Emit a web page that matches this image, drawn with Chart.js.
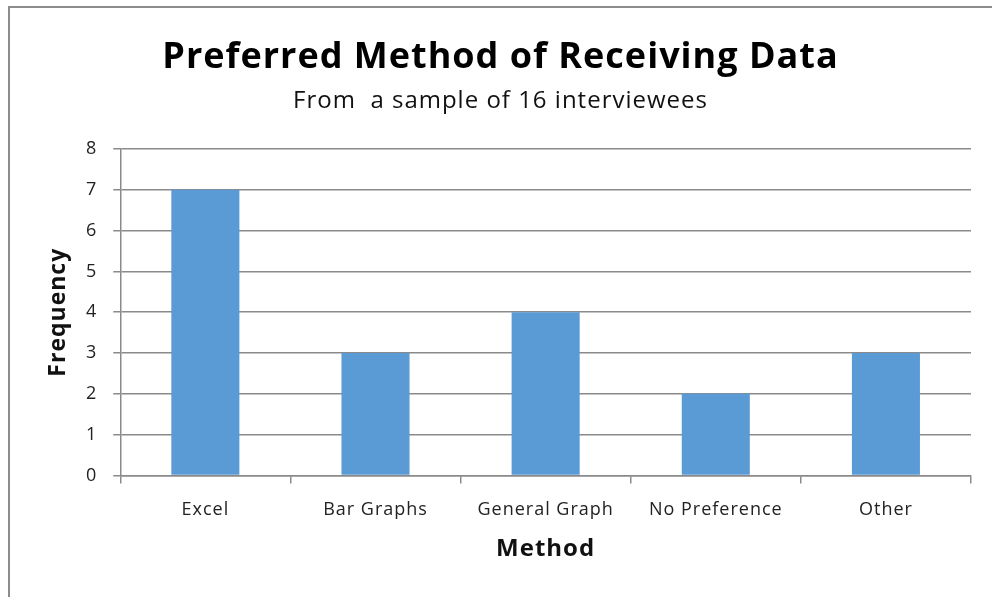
<!DOCTYPE html>
<html>
<head>
<meta charset="utf-8">
<script src="https://cdn.jsdelivr.net/npm/chart.js@4.4.1/dist/chart.umd.min.js"></script>
<style>
    body { margin: 0; background: #fff; }
    #frame {
        position: absolute;
        left: 8px;
        top: 6px;
        width: 1000px;
        height: 600px;
        border: 2px solid #8c8c8c;
        box-sizing: border-box;
    }
    #wrap { position: absolute; left: 0; top: 0; width: 992px; height: 597px; }
</style>
</head>
<body>
<div id="frame"></div>
<div id="wrap"><canvas id="chart" width="992" height="597"></canvas></div>
<script>
// Data
const methods = ['Excel', 'Bar Graphs', 'General Graph', 'No Preference', 'Other'];
const frequency = [7, 3, 4, 2, 3];
const yTicks = [0, 1, 2, 3, 4, 5, 6, 7, 8];

const gridColor = '#8a8a8a';
const fontFamily = '"Open Sans", sans-serif';

// Office-style text is a bit wider, add some letter spacing
const spacingPlugin = {
    id: 'spacing',
    beforeUpdate: (chart) => { chart.ctx.letterSpacing = '1px'; },
    beforeDraw: (chart) => { chart.ctx.letterSpacing = '1px'; }
};

const ctx = document.getElementById('chart').getContext('2d');
new Chart(ctx, {
    type: 'bar',
    plugins: [spacingPlugin],
    data: {
        labels: methods,
        datasets: [
            {
                label: 'Frequency',
                data: frequency,
                backgroundColor: '#5b9bd5',
                barPercentage: 0.4,
                categoryPercentage: 1
            }
        ]
    },
    options: {
        responsive: false,
        animation: false,
        layout: {
            padding: { top: 0, left: 30, right: 21, bottom: 32 }
        },
        plugins: {
            legend: { display: false },
            tooltip: { enabled: false },
            title: {
                display: true,
                text: 'Preferred Method of Receiving Data',
                color: '#000',
                font: { family: fontFamily, size: 36, weight: 'bold', lineHeight: 1.2 },
                padding: { top: 36, bottom: 4 }
            },
            subtitle: {
                display: true,
                text: 'From  a sample of 16 interviewees',
                color: '#111',
                font: { family: fontFamily, size: 24, lineHeight: 1.2 },
                padding: { top: 3.4, bottom: 33.6 }
            }
        },
        scales: {
            x: {
                offset: true,
                grid: {
                    offset: true,
                    drawOnChartArea: false,
                    color: gridColor,
                    lineWidth: 1.5,
                    tickLength: 8
                },
                border: { display: true, color: gridColor, width: 1.5 },
                ticks: {
                    color: '#222',
                    padding: 16,
                    font: { family: fontFamily, size: 18 }
                },
                title: {
                    display: true,
                    text: 'Method',
                    color: '#111',
                    font: { family: fontFamily, size: 24, weight: 'bold', lineHeight: 1 },
                    padding: { top: 0, bottom: 4 }
                }
            },
            y: {
                min: 0,
                max: 8,
                afterBuildTicks: (scale) => {
                    scale.ticks = yTicks.map(v => ({ value: v }));
                },
                grid: {
                    color: gridColor,
                    lineWidth: 1.5,
                    tickLength: 7
                },
                border: { display: true, color: gridColor, width: 1.5 },
                ticks: {
                    color: '#222',
                    padding: 16,
                    font: { family: fontFamily, size: 18 }
                },
                title: {
                    display: true,
                    text: 'Frequency',
                    color: '#111',
                    font: { family: fontFamily, size: 23, weight: 'bold', lineHeight: 1 },
                    padding: { top: 17, bottom: 0 }
                }
            }
        }
    }
});
</script>
</body>
</html>
